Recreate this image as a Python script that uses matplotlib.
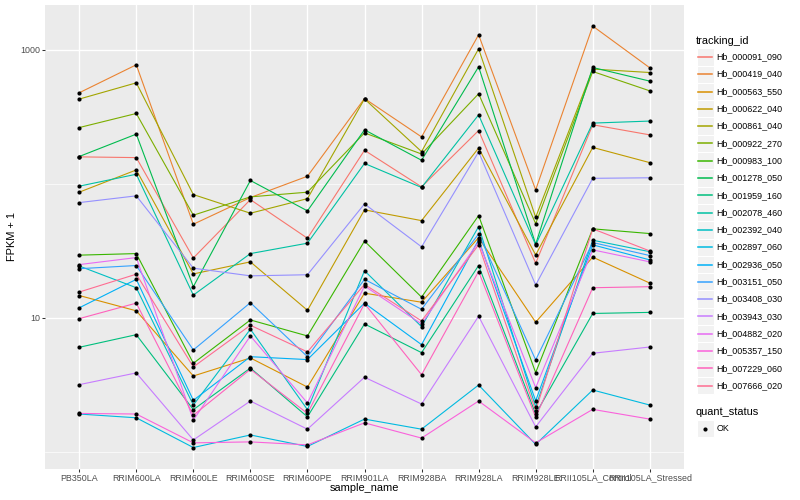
import numpy as np
import matplotlib
matplotlib.use('Agg')
import matplotlib.pyplot as plt
from matplotlib.lines import Line2D
from matplotlib.patches import Rectangle
from matplotlib.ticker import FixedLocator, NullFormatter

plt.rcParams['font.family'] = ['Liberation Sans', 'DejaVu Sans']

# samples on the x axis
samples = ['PB350LA', 'RRIM600LA', 'RRIM600LE', 'RRIM600SE', 'RRIM600PE', 'RRIM901LA',
           'RRIM928BA', 'RRIM928LA', 'RRIM928LE', 'RRII105LA_Control', 'RRII105LA_Stressed']

tracking_ids = ['Hb_000091_090', 'Hb_000419_040', 'Hb_000563_550', 'Hb_000622_040',
                'Hb_000861_040', 'Hb_000922_270', 'Hb_000983_100', 'Hb_001278_050',
                'Hb_001959_160', 'Hb_002078_460', 'Hb_002392_040', 'Hb_002897_060',
                'Hb_002936_050', 'Hb_003151_050', 'Hb_003408_030', 'Hb_003943_030',
                'Hb_004882_020', 'Hb_005357_150', 'Hb_007229_060', 'Hb_007666_020']

# ggplot default hue palette for 20 groups
colors = ['#F8766D', '#EA8331', '#D89000', '#C09B00', '#A3A500', '#7CAE00', '#39B600',
          '#00BB4E', '#00BF7D', '#00C1A3', '#00BFC4', '#00BAE0', '#00B0F6', '#35A2FF',
          '#9590FF', '#C77CFF', '#E76BF3', '#FA62DB', '#FF62BC', '#FF6C91']

# FPKM + 1, one value per sample
hb_000091_090 = [159, 157, 28.0, 76.3, 39.3, 178, 95.0, 250, 25.6, 276, 232]
hb_000419_040 = [478, 773, 50.0, 79.1, 114, 433, 224, 1294, 90.2, 1503, 734]
hb_000563_550 = [14.7, 11.3, 3.69, 5.03, 3.05, 15.3, 13.1, 39.7, 9.29, 28.4, 18.2]
hb_000622_040 = [86.7, 127, 21.3, 26.2, 11.4, 64.0, 53.2, 185, 29.5, 187, 144]
hb_000861_040 = [429, 567, 83.2, 60.4, 77.6, 430, 174, 1017, 56.4, 718, 677]
hb_000922_270 = [263, 335, 58.4, 80.0, 86.7, 240, 167, 470, 50.5, 689, 494]
hb_000983_100 = [29.4, 30.2, 4.59, 9.66, 7.34, 37.4, 14.3, 58.0, 3.91, 46.2, 42.6]
hb_001278_050 = [160, 235, 17.1, 106, 62.9, 253, 150, 747, 35.5, 738, 584]
hb_001959_160 = [6.04, 7.50, 2.07, 4.23, 1.83, 9.02, 5.51, 24.6, 1.92, 10.8, 11.0]
hb_002078_460 = [96.1, 118, 14.8, 30.2, 36.1, 142, 94.0, 327, 35.1, 284, 294]
hb_002392_040 = [24.4, 16.8, 2.24, 8.24, 2.07, 22.5, 8.61, 48.0, 2.17, 38.0, 31.2]
hb_002897_060 = [1.92, 1.80, 1.08, 1.34, 1.10, 1.76, 1.48, 3.16, 1.14, 2.90, 2.24]
hb_002936_050 = [11.9, 19.4, 2.43, 5.14, 4.89, 12.9, 6.32, 38.2, 2.41, 35.1, 27.1]
hb_003151_050 = [23.3, 24.6, 5.77, 13.0, 5.14, 19.4, 11.6, 42.3, 4.86, 36.5, 29.2]
hb_003408_030 = [72.5, 81.4, 23.5, 20.6, 21.0, 70.9, 33.9, 173, 17.6, 110, 111]
hb_003943_030 = [3.18, 3.89, 1.23, 2.40, 1.48, 3.61, 2.28, 10.3, 1.54, 5.45, 6.07]
hb_004882_020 = [25.0, 28.2, 1.73, 7.34, 2.32, 17.3, 9.02, 36.9, 3.02, 32.2, 26.2]
hb_005357_150 = [1.94, 1.92, 1.17, 1.19, 1.13, 1.65, 1.27, 2.40, 1.17, 2.08, 1.76]
hb_007229_060 = [9.88, 12.9, 1.88, 4.14, 1.94, 12.8, 3.77, 22.2, 1.82, 16.8, 17.1]
hb_007666_020 = [15.6, 21.2, 4.31, 8.82, 5.58, 17.8, 9.50, 35.1, 2.03, 46.2, 31.6]

series = [hb_000091_090, hb_000419_040, hb_000563_550, hb_000622_040, hb_000861_040,
          hb_000922_270, hb_000983_100, hb_001278_050, hb_001959_160, hb_002078_460,
          hb_002392_040, hb_002897_060, hb_002936_050, hb_003151_050, hb_003408_030,
          hb_003943_030, hb_004882_020, hb_005357_150, hb_007229_060, hb_007666_020]

W, H = 800, 500
fig = plt.figure(figsize=(8, 5), dpi=100)

def fx(px):
    return px / W

def fy(py):
    return 1 - py / H

# panel area in pixels
pl, pr, pt, pb = 45, 684, 5, 468.6
ax = fig.add_axes([fx(pl), fy(pb), (pr - pl) / W, (pb - pt) / H])
ax.set_facecolor('#EBEBEB')
for s in ax.spines.values():
    s.set_visible(False)

x = np.arange(len(samples))
for vals, c in zip(series, colors):
    ax.plot(x, vals, color=c, lw=0.8, zorder=3)
for vals in series:
    ax.plot(x, vals, 'o', color='black', ms=3.0, mew=0, zorder=4)

ax.set_yscale('log')
allv = np.concatenate([np.array(v) for v in series])
lo, hi = np.log10(allv.min()), np.log10(allv.max())
pad = 0.05 * (hi - lo)
ax.set_ylim(10 ** (lo - pad), 10 ** (hi + pad))
ax.set_xlim(-0.6, len(samples) - 0.4)

ax.yaxis.set_major_locator(FixedLocator([10, 1000]))
ax.set_yticklabels(['10', '1000'])
ax.yaxis.set_minor_locator(FixedLocator([1, 100]))
ax.yaxis.set_minor_formatter(NullFormatter())
ax.set_xticks(x)
ax.set_xticklabels(samples)

ax.grid(True, which='major', color='white', lw=1.0, zorder=1)
ax.grid(True, which='minor', axis='y', color='white', lw=0.5, zorder=1)
ax.set_axisbelow(True)
ax.tick_params(which='major', length=2.0, width=0.75, color='#333333',
               labelsize=6.4, labelcolor='#4D4D4D', pad=1.6)
ax.tick_params(which='minor', length=0)

fig.text(fx((pl + pr) / 2), fy(488), 'sample_name', ha='center', va='center', fontsize=7.9)
fig.text(fx(12.5), fy((pt + pb) / 2), 'FPKM + 1', ha='center', va='center',
         rotation=90, fontsize=7.9)

# legend: tracking_id
fig.text(fx(696), fy(40.7), 'tracking_id', ha='left', va='center', fontsize=7.9)
step = 17.3
for i, (name, c) in enumerate(zip(tracking_ids, colors)):
    yc = 56.9 + i * step
    fig.add_artist(Rectangle((fx(696.5), fy(yc + step / 2)), step / W, step / H,
                             transform=fig.transFigure, facecolor='#F2F2F2',
                             edgecolor='white', lw=0.8, zorder=1))
    fig.add_artist(Line2D([fx(698.2), fx(712.2)], [fy(yc), fy(yc)],
                          transform=fig.transFigure, color=c, lw=1.1, zorder=5))
    fig.text(fx(716.5), fy(yc), name, ha='left', va='center', fontsize=6.4)

# legend: quant_status
fig.text(fx(696), fy(411.7), 'quant_status', ha='left', va='center', fontsize=7.9)
yc = 428.5
fig.add_artist(Rectangle((fx(696.5), fy(yc + step / 2)), step / W, step / H,
                         transform=fig.transFigure, facecolor='#F2F2F2',
                         edgecolor='white', lw=0.8, zorder=1))
fig.add_artist(Line2D([fx(705.2)], [fy(yc)], transform=fig.transFigure,
                      marker='o', color='black', ms=3.0, mew=0, lw=0, zorder=5))
fig.text(fx(716.5), fy(yc), 'OK', ha='left', va='center', fontsize=6.4)

fig.savefig('out.png', dpi=100)
